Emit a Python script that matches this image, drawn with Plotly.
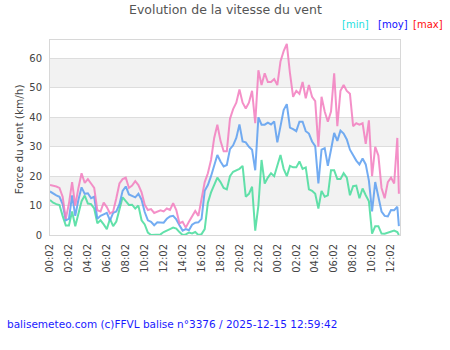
import pandas as pd
import plotly.graph_objects as go

# ---- data (km/h), 20-min samples from 2025-12-14 00:02, last one at 12:52 ----
start = pd.Timestamp("2025-12-14 00:02")
wind_max = [17, 16.8, 16.5, 16, 13, 5.5, 10.7, 18, 10, 16, 21, 17.7, 19, 17.5, 16, 8.4, 8, 11, 9.5, 7.3,
            8, 12.5, 17.5, 19, 19.5, 16, 16.8, 18.3, 17, 14.5, 10.3, 8.5, 8.8, 7.5, 8, 8.4, 8, 9, 8.5, 10.8,
            8.5, 4, 4.5, 2.5, 4.5, 6.5, 8.2, 6.5, 13, 18, 21, 25.5, 33, 37.5, 32, 28.5, 28.5, 39.5, 42.8, 45,
            49.5, 45, 43, 45, 49, 38, 56, 51, 55, 52, 52, 53, 51, 59, 62.5, 65, 55, 47, 49, 48,
            52, 46.5, 51, 47, 45.5, 30, 47, 42, 38.5, 42, 55, 37, 49, 51, 49, 48, 37, 38, 37.5, 38,
            31, 39, 20, 30, 27, 16, 12.5, 18, 19.5, 17.5, 33, 14]
wind_avg = [14.8, 14, 13.5, 13, 10.5, 5, 5.5, 13.5, 6.5, 12, 16.2, 14, 14.2, 12.5, 13, 5.5, 6.5, 7, 7.5, 5,
            7.5, 8, 10.5, 15, 16.5, 13.8, 13.2, 12.8, 14, 12, 7.8, 5, 4.5, 3.3, 4.3, 4.2, 4.2, 5.5, 6.3, 6.5,
            5.3, 3.3, 1.5, 2, 1.6, 3.5, 4.2, 4.3, 5.5, 15, 17, 20, 24, 27.2, 25, 23.3, 23.8, 29.2, 30.5, 33,
            37.6, 31.8, 31.5, 30, 29, 22, 40, 37.5, 37.5, 38.2, 37.6, 38.6, 31.5, 36.5, 42.5, 44.5, 36.5, 36, 35.3, 38.5,
            38.5, 35.3, 34.5, 31.8, 30.2, 17.5, 29, 29.5, 23.5, 29, 34.7, 32, 35.5, 34.5, 32.5, 29, 27, 25.3, 24, 26,
            24, 18.5, 8, 18, 13, 8, 6.5, 6.3, 8.5, 8.4, 9.6, 3]
wind_min = [11.9, 11, 10.5, 10.2, 6.5, 3.2, 3.2, 8, 3, 7.5, 11.5, 13.4, 10.7, 10.5, 9, 4, 5, 3.6, 2, 5.5,
            3, 4.6, 9, 12.8, 11.5, 10.2, 10.3, 9, 10, 5, 3.6, 0.8, 0, 0, 0, 0.2, 1, 1.6, 2, 2.5,
            2.2, 1, 0, 0.2, 0.8, 0.5, 1, 0, 0.3, 2, 11, 14.5, 16.8, 19.5, 18, 16, 15.5, 20, 21.5, 22,
            22.5, 23.5, 13, 14, 16.4, 1.5, 10, 25.5, 17.5, 19.5, 21, 20, 23.5, 27.2, 22.5, 20, 23.5, 23, 23, 25,
            22.5, 23, 15.5, 15, 14, 9, 15, 13, 13.5, 22, 22, 19, 19, 21, 19.5, 13.5, 16.6, 16.8, 12.5, 15.8,
            13.5, 11.5, 0.5, 3, 3, 0.5, 0.4, 0.8, 1.2, 1.5, 1, 0]
times = [start + pd.Timedelta(minutes=20 * i) for i in range(len(wind_max) - 1)]
times.append(pd.Timestamp("2025-12-15 12:52"))

tick_times = [start + pd.Timedelta(hours=2 * i) for i in range(19)]
tick_labels = [t.strftime("%H:%M") for t in tick_times]
y_ticks = [0, 10, 20, 30, 40, 50, 60]

FONT = "DejaVu Sans"
fig = go.Figure()
fig.add_trace(go.Scatter(x=times, y=wind_min, mode="lines", line=dict(color="rgba(70,220,155,0.85)", width=2), showlegend=False))
fig.add_trace(go.Scatter(x=times, y=wind_avg, mode="lines", line=dict(color="rgba(90,158,240,0.85)", width=2), showlegend=False))
fig.add_trace(go.Scatter(x=times, y=wind_max, mode="lines", line=dict(color="rgba(242,125,190,0.85)", width=2), showlegend=False))

# alternating horizontal bands
for lo in (10, 30, 50):
    fig.add_shape(type="rect", xref="paper", yref="y", x0=0, x1=1, y0=lo, y1=lo + 10,
                  fillcolor="#f2f2f2", line_width=0, layer="below")

fig.update_layout(
    width=450, height=350,
    margin=dict(l=50, r=50, t=40, b=115),
    paper_bgcolor="white", plot_bgcolor="white",
    font=dict(family=FONT, size=10, color="#444"),
    xaxis=dict(type="date", range=[start, pd.Timestamp("2025-12-15 12:59")],
               tickvals=tick_times, ticktext=tick_labels, tickangle=-90,
               showgrid=False, showline=True, linecolor="#d8d8d8", mirror=True,
               ticks="outside", ticklen=4, tickcolor="rgba(0,0,0,0)",
               tickfont=dict(family=FONT, size=10, color="#444"), zeroline=False),
    yaxis=dict(range=[0, 66.3], tickvals=y_ticks, showgrid=True, gridcolor="#dddddd",
               showline=True, linecolor="#d8d8d8", mirror=True, zeroline=False,
               ticks="outside", ticklen=5, tickcolor="rgba(0,0,0,0)",
               tickfont=dict(family=FONT, size=10, color="#444")),
    annotations=[
        dict(text="Evolution de la vitesse du vent", xref="paper", yref="paper", x=0.5, y=1.154,
             xanchor="center", yanchor="middle", showarrow=False, font=dict(family=FONT, size=12.5, color="#555")),
        dict(text="[min]", xref="paper", yref="paper", x=0.829, y=1.082, xanchor="left", yanchor="middle",
             showarrow=False, font=dict(family=FONT, size=10, color="#22e0e0")),
        dict(text="[moy]", xref="paper", yref="paper", x=0.931, y=1.082, xanchor="left", yanchor="middle",
             showarrow=False, font=dict(family=FONT, size=10, color="#1010ff")),
        dict(text="[max]", xref="paper", yref="paper", x=1.031, y=1.082, xanchor="left", yanchor="middle",
             showarrow=False, font=dict(family=FONT, size=10, color="#ff1010")),
        dict(text="Force du vent (km/h)", xref="paper", yref="paper", x=-0.086, y=0.49, textangle=-90,
             xanchor="center", yanchor="middle", showarrow=False, font=dict(family=FONT, size=10.5, color="#444")),
        dict(text="balisemeteo.com (c)FFVL balise n°3376 / 2025-12-15 12:59:42", xref="paper", yref="paper",
             x=-0.1286, y=-0.456, xanchor="left", yanchor="middle", showarrow=False,
             font=dict(family=FONT, size=10.5, color="#1a1aff")),
    ],
)
fig.write_html("out.html")
